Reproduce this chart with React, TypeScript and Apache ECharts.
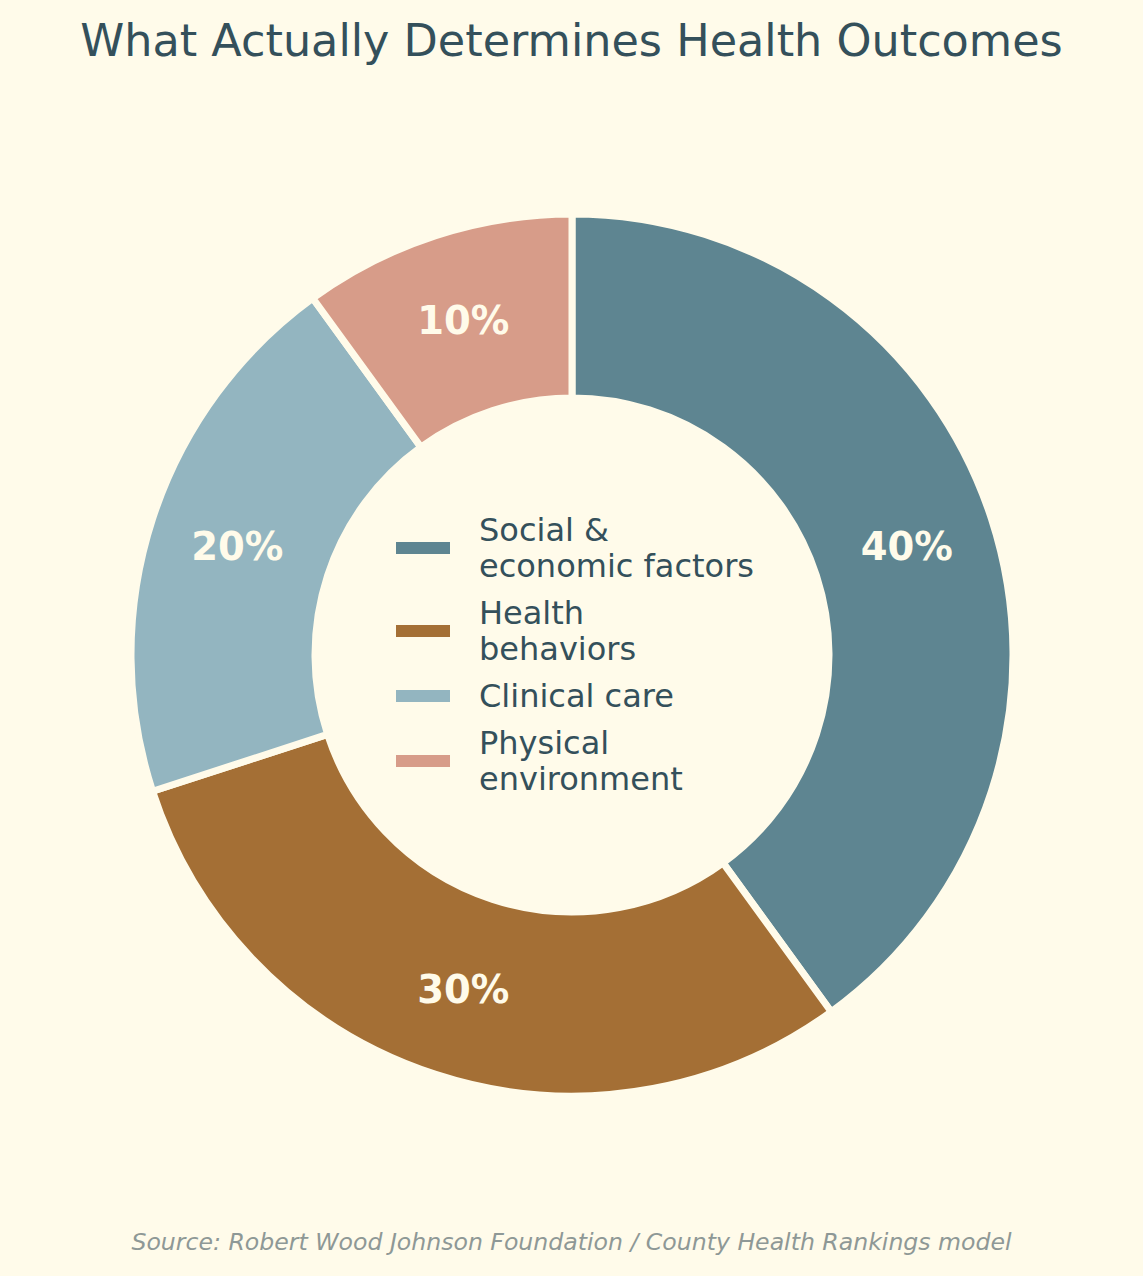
import React, { useEffect, useRef } from "react";
import * as echarts from "echarts";

const categories = ["Social & economic factors", "Health behaviors", "Clinical care", "Physical environment"];
const legendLabels = ["Social &\neconomic factors", "Health\nbehaviors", "Clinical care", "Physical\nenvironment"];
const values = [40, 30, 20, 10];
const colors = ["#5E8591", "#A46F35", "#93B5C0", "#D79C89"];
const titleText = "What Actually Determines Health Outcomes";
const sourceText = "Source: Robert Wood Johnson Foundation / County Health Rankings model";

const BG = "#FFFBEA";
const FONT = "DejaVu Sans";

export default function App() {
  const ref = useRef<HTMLDivElement>(null);
  useEffect(() => {
    document.body.style.margin = "0";
    document.body.style.background = BG;
    const chart = echarts.init(ref.current!, null, { renderer: "svg" });
    chart.setOption({
      animation: false,
      backgroundColor: BG,
      title: {
        text: titleText,
        left: "center",
        top: 13,
        textStyle: { fontFamily: FONT, fontSize: 44.5, fontWeight: "normal", color: "#34505B" },
      },
      legend: {
        orient: "vertical",
        left: 394,
        top: 512,
        padding: 0,
        itemWidth: 56,
        itemHeight: 14,
        itemGap: 11,
        icon: "rect",
        data: categories,
        formatter: (name: string) => legendLabels[categories.indexOf(name)],
        textStyle: { fontFamily: FONT, fontSize: 32, lineHeight: 36, color: "#34505B", padding: [0, 0, 0, 23] },
      },
      graphic: [
        {
          type: "text",
          left: "center",
          top: 1230,
          style: {
            text: sourceText,
            font: `italic 23.6px "${FONT}"`,
            fill: "#8E9896",
          },
        },
      ],
      series: [
        {
          type: "pie",
          center: [572, 655],
          radius: [257, 441],
          startAngle: 90,
          clockwise: true,
          label: {
            show: true,
            position: "inside",
            formatter: "{c}%",
            fontFamily: FONT,
            fontSize: 38.5,
            fontWeight: "bold",
            color: "#FFFBEA",
          },
          labelLine: { show: false },
          itemStyle: { borderColor: BG, borderWidth: 7 },
          emphasis: { disabled: true },
          data: categories.map((c, i) => ({ name: c, value: values[i], itemStyle: { color: colors[i] } })),
        },
      ],
    });
    return () => chart.dispose();
  }, []);
  return <div ref={ref} style={{ width: 1143, height: 1276 }} />;
}
